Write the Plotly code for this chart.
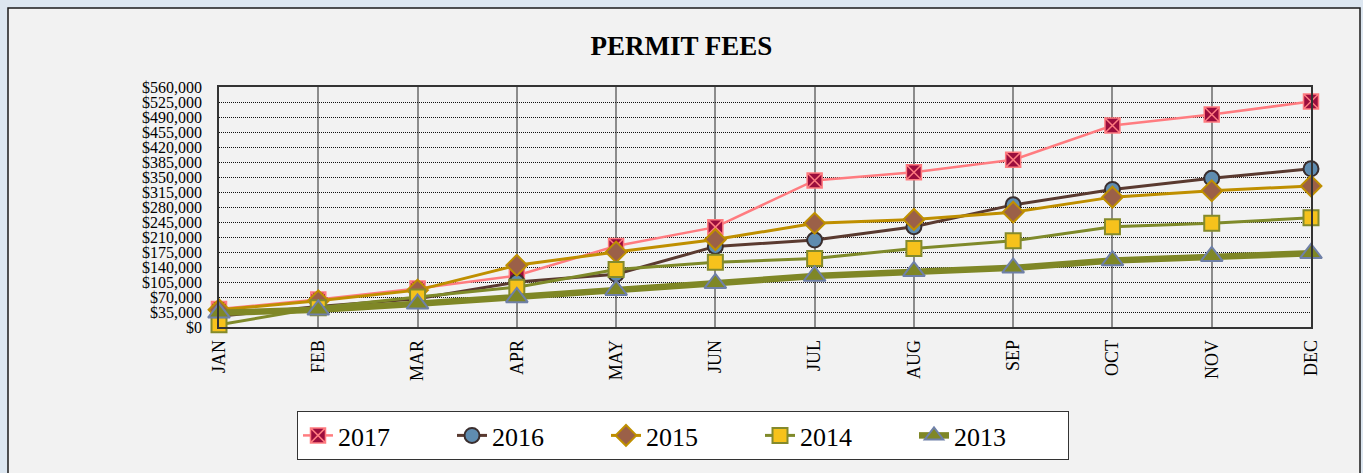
import plotly.graph_objects as go

months = ["JAN", "FEB", "MAR", "APR", "MAY", "JUN", "JUL", "AUG", "SEP", "OCT", "NOV", "DEC"]
fees_2017 = [42000, 64000, 90000, 120000, 189000, 233000, 342000, 361000, 390000, 470000, 496000, 526000]
fees_2016 = [25000, 48000, 66000, 105000, 123000, 188000, 203000, 234000, 285000, 321000, 347000, 369000]
fees_2015 = [40000, 61000, 86000, 144000, 175000, 204000, 242000, 251000, 268000, 303000, 318000, 329000]
fees_2014 = [5000, 45000, 70000, 93000, 134000, 151000, 160000, 183000, 201000, 234000, 242000, 255000]
fees_2013 = [33000, 40000, 54000, 69000, 86000, 102000, 119000, 130000, 138000, 155000, 165000, 172000]
y_ticks = list(range(0, 560001, 35000))

series = [
    ("2017", fees_2017, dict(color="#FF7C80", width=2.5),
     dict(symbol="square-x", size=15, color="#9B0D3D", line=dict(color="#FF7C80", width=1.5))),
    ("2016", fees_2016, dict(color="#5A3A30", width=3),
     dict(symbol="circle", size=15, color="#5F8CB0", line=dict(color="#3A2E2E", width=2))),
    ("2015", fees_2015, dict(color="#BF8F00", width=3),
     dict(symbol="diamond", size=16, color="#9B6048", line=dict(color="#BF8F00", width=2))),
    ("2014", fees_2014, dict(color="#7F8A2A", width=3),
     dict(symbol="square", size=15, color="#F6C21C", line=dict(color="#848A2C", width=2))),
    ("2013", fees_2013, dict(color="#7F8726", width=6.5),
     dict(symbol="triangle-up", size=19, color="#7F8726", line=dict(color="#6F80A8", width=2))),
]

fig = go.Figure()
for name, vals, ln, mk in series:
    fig.add_trace(go.Scatter(x=months, y=vals, name=name, mode="lines+markers",
                             line=ln, marker=mk, cliponaxis=False))

L, R, T, B = 219, 52, 87, 146
W, H = 1363, 473
pw, ph = W - L - R, H - T - B

def px_x(x):
    return (x - L) / pw

def px_y(y):
    return (H - B - y) / ph

fig.add_shape(type="rect", xref="paper", yref="paper",
              x0=px_x(8), x1=px_x(1360), y0=px_y(520), y1=px_y(8),
              fillcolor="#F2F2F2", line=dict(color="#1a1a1a", width=1.5), layer="below")

fig.update_layout(
    width=W, height=H,
    margin=dict(l=L, r=R, t=T, b=B, autoexpand=False),
    paper_bgcolor="#DCE6F0",
    plot_bgcolor="#FFFFFF",
    title=dict(text="<b>PERMIT FEES</b>", x=0.5, xref="container", xanchor="center",
               y=1 - 46 / H, yref="container", yanchor="middle",
               font=dict(family="Liberation Serif", size=27, color="#000")),
    font=dict(family="Liberation Serif", color="#000"),
    showlegend=True,
    legend=dict(orientation="h", x=px_x(683), xanchor="center", y=px_y(411), yanchor="top",
                bgcolor="#FFFFFF", bordercolor="#333", borderwidth=1,
                font=dict(family="Liberation Serif", size=26, color="#000"),
                entrywidth=109, entrywidthmode="pixels", tracegroupgap=0),
    xaxis=dict(range=[0, 11], showgrid=True, gridcolor="#8C8C8C", gridwidth=2,
               showline=True, linecolor="#333", linewidth=1.5, mirror=True,
               tickangle=-90, tickfont=dict(size=18, family="Liberation Serif"),
               ticks="", zeroline=False, ticklabelstandoff=4),
    yaxis=dict(range=[0, 560000], tickvals=y_ticks, tickformat="$,.0f",
               showgrid=True, gridcolor="#111", gridwidth=1, griddash="1px,1px",
               showline=True, linecolor="#333", linewidth=1.5, mirror=True,
               tickfont=dict(size=16, family="Liberation Serif"),
               ticks="", zeroline=False, ticklabelstandoff=12),
)

fig.write_html("out.html", config={"displayModeBar": False},
               post_script="document.body.style.margin='0';document.body.style.background='#DCE6F0';")
